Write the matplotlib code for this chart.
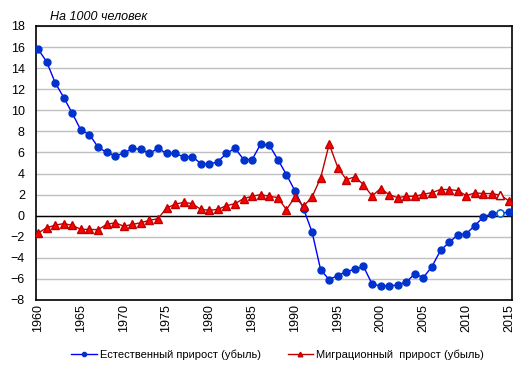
import matplotlib
matplotlib.use("Agg")
import matplotlib.pyplot as plt

plt.rcParams['font.family'] = ['Liberation Sans', 'DejaVu Sans']

years = list(range(1960, 2016))
natural = [15.8, 14.6, 12.6, 11.2, 9.7, 8.1, 7.7, 6.5, 6.0, 5.7,
           5.9, 6.4, 6.3, 5.9, 6.4, 5.9, 5.9, 5.6, 5.6, 4.95,
           4.86, 5.14, 5.9, 6.4, 5.33, 5.33, 6.8, 6.7, 5.33, 3.9,
           2.35, 0.67, -1.56, -5.14, -6.06, -5.68, -5.3, -5.1, -4.8, -6.48,
           -6.67, -6.67, -6.57, -6.29, -5.52, -5.87, -4.83, -3.3, -2.54, -1.84,
           -1.71, -0.95, -0.13, 0.19, 0.25, 0.32]
migration = [-1.64, -1.15, -0.9, -0.75, -0.92, -1.3, -1.3, -1.33, -0.83, -0.67,
             -1.0, -0.83, -0.67, -0.44, -0.29, 0.73, 1.08, 1.27, 1.14, 0.6,
             0.51, 0.6, 0.95, 1.14, 1.62, 1.84, 2.0, 1.84, 1.71, 0.57,
             1.78, 0.89, 1.78, 3.59, 6.79, 4.57, 3.43, 3.68, 2.95, 1.87,
             2.57, 2.0, 1.71, 1.84, 1.84, 2.03, 2.19, 2.48, 2.48, 2.38,
             1.9, 2.16, 2.1, 2.1, 1.94, 1.4]

fig = plt.figure(figsize=(5.2, 3.71), dpi=100)
ax = fig.add_axes([0.0692, 0.1914, 0.9154, 0.7386])

ax.plot(years, natural, color='#0000FF', lw=1, marker='o', markersize=5,
        markerfacecolor='#0033CC', markeredgecolor='#0033CC',
        label='Естественный прирост (убыль)', zorder=3)
ax.plot(years, migration, color='#C00000', lw=1, marker='^', markersize=5.5,
        markerfacecolor='#FF0000', markeredgecolor='#C00000',
        label='Миграционный  прирост (убыль)', zorder=3)
# last-but-one points drawn hollow in the original
ax.plot(years[-2], natural[-2], 'o', markersize=5, markerfacecolor='white',
        markeredgecolor='#0066CC', zorder=4)
ax.plot(years[-2], migration[-2], '^', markersize=5.5, markerfacecolor='white',
        markeredgecolor='#C00000', zorder=4)

ax.set_xlim(1959.75, 2015.35)
ax.set_ylim(-8, 18)
ax.set_yticks(range(-8, 19, 2))
ax.set_xticks(range(1960, 2016, 5))
ax.tick_params(axis='x', labelrotation=90, labelsize=9, length=0, pad=3)
ax.tick_params(axis='y', labelsize=9, length=0, pad=8)
ax.yaxis.grid(True, color='#C0C0C0', lw=1)
ax.set_axisbelow(True)
ax.axhline(0, color='black', lw=1, zorder=2)
for s in ax.spines.values():
    s.set_linewidth(1.2)

fig.text(0.097, 0.955, 'На 1000 человек', fontsize=9, style='italic', va='center')

fig.legend(loc='center', bbox_to_anchor=(0.534, 0.045), ncol=2, frameon=False,
           fontsize=8, handlelength=2.3, handletextpad=0.3, columnspacing=2.4,
           markerscale=0.6)

fig.savefig('out.png', dpi=100)
